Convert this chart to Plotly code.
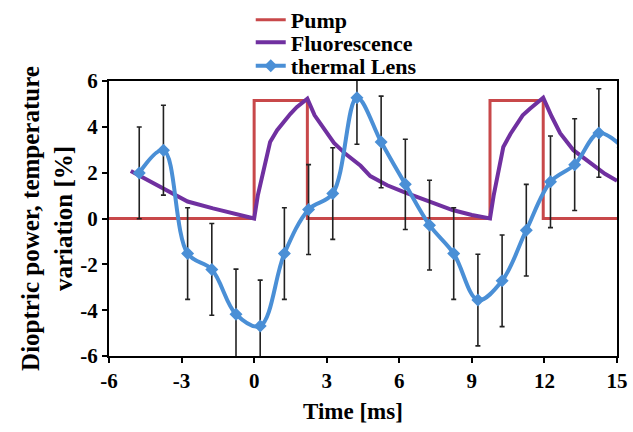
import plotly.graph_objects as go

# ---- data ----
pump_t = [-6, 0.0, 0.0, 2.2, 2.2, 9.75, 9.75, 11.95, 11.95, 15]
pump_v = [0, 0, 5.15, 5.15, 0, 0, 5.15, 5.15, 0, 0]

fluo_t = [-5.1, -4.5, -3.75, -2.75, -1.7, -0.75, 0.0,
          0.15, 0.38, 0.66, 0.95, 1.21, 1.5, 1.76, 2.0, 2.2,
          2.5, 2.9, 3.3, 3.8, 4.4, 4.8, 5.5, 6.2, 7.0, 7.6, 8.2, 9.0, 9.75,
          9.9, 10.03, 10.3, 10.6, 10.85, 11.1, 11.4, 11.7, 11.95,
          12.3, 12.65, 13.2, 13.6, 14.0, 14.5, 15.0]
fluo_v = [2.07, 1.72, 1.31, 0.74, 0.44, 0.19, 0.0,
          1.0, 2.1, 3.34, 3.85, 4.21, 4.57, 4.86, 5.07, 5.23,
          4.5, 3.9, 3.3, 2.8, 2.3, 1.85, 1.45, 1.15, 0.85, 0.6, 0.37, 0.15, 0.0,
          1.0, 1.67, 3.12, 3.7, 4.14, 4.5, 4.79, 5.05, 5.27,
          4.45, 3.72, 2.98, 2.65, 2.32, 1.95, 1.65]

tl_t = [-4.75, -3.75, -2.75, -1.75, -0.75, 0.25, 1.25, 2.25, 3.25, 4.25,
        5.25, 6.25, 7.25, 8.25, 9.25, 10.25, 11.25, 12.25, 13.25, 14.25, 15.25]
tl_v = [1.99, 2.98, -1.53, -2.22, -4.18, -4.69, -1.53, 0.39, 1.09, 5.27,
        3.34, 1.49, -0.29, -1.53, -3.56, -2.72, -0.51, 1.6, 2.35, 3.73, 3.1]
tl_err = [2.0, 1.96, 2.0, 2.0, 1.97, 2.0, 2.0, 1.96, 2.0, 2.03,
          2.0, 1.97, 1.96, 2.0, 2.0, 2.0, 2.0, 2.0, 2.0, 1.93, 0.0]

x_range = [-6, 15]
y_range = [-6, 6]
x_ticks = [-6, -3, 0, 3, 6, 9, 12, 15]
y_ticks = [-6, -4, -2, 0, 2, 4, 6]

RED = "#c8484a"
PURPLE = "#7030a0"
BLUE = "#4a8fd6"
FONT = "Liberation Serif"

fig = go.Figure()
fig.add_trace(go.Scatter(x=pump_t, y=pump_v, mode="lines", name="<b>Pump</b>",
                         line=dict(color=RED, width=3), legend="legend"))
fig.add_trace(go.Scatter(x=fluo_t, y=fluo_v, mode="lines", name="<b>Fluorescence</b>",
                         line=dict(color=PURPLE, width=4), legend="legend2"))
fig.add_trace(go.Scatter(x=tl_t, y=tl_v, mode="lines+markers", name="<b>thermal Lens</b>",
                         line=dict(color=BLUE, width=4, shape="spline", smoothing=1.0),
                         marker=dict(symbol="diamond", size=10, color=BLUE),
                         error_y=dict(type="data", array=tl_err, visible=True,
                                      color="#222222", thickness=1.6, width=2.5),
                         legend="legend3"))
# invisible copy on the overlay axes so the top/right frame axes get drawn
fig.add_trace(go.Scatter(x=pump_t, y=pump_v, mode="lines", xaxis="x2", yaxis="y2",
                         line=dict(color="rgba(0,0,0,0)", width=0), showlegend=False,
                         hoverinfo="skip"))

axis_common = dict(showline=True, linecolor="black", linewidth=2, mirror=True,
                   showgrid=False, zeroline=False, ticks="outside", ticklen=5,
                   tickwidth=2, tickcolor="black",
                   tickfont=dict(family=FONT, size=21, color="black"))

leg_common = dict(xanchor="left", yanchor="middle", bgcolor="rgba(0,0,0,0)",
                  itemwidth=30, font=dict(family=FONT, size=22, color="black"))

fig.update_layout(
    width=633, height=432,
    margin=dict(l=109, r=16, t=81, b=76, autoexpand=False),
    paper_bgcolor="white", plot_bgcolor="white",
    font=dict(family=FONT, color="black"),
    xaxis=dict(range=x_range, tickvals=x_ticks, ticktext=[f"<b>{v}</b>" for v in x_ticks],
               **axis_common),
    yaxis=dict(range=y_range, tickvals=y_ticks, ticktext=[f"<b>{v}</b>" for v in y_ticks],
               title=dict(text="<b>Dioptric power, temperature<br>variation [%]</b>",
                          font=dict(family=FONT, size=25), standoff=1),
               **axis_common),
    xaxis2=dict(range=x_range, overlaying="x", side="top", anchor="y2",
                showline=True, linecolor="black", linewidth=2, ticks="",
                showticklabels=False, showgrid=False, zeroline=False),
    yaxis2=dict(range=y_range, overlaying="y", side="right", anchor="x2",
                showline=True, linecolor="black", linewidth=2, ticks="",
                showticklabels=False, showgrid=False, zeroline=False),
    legend=dict(x=0.279, y=1.222, **leg_common),
    legend2=dict(x=0.279, y=1.14, **leg_common),
    legend3=dict(x=0.279, y=1.055, **leg_common),
    annotations=[dict(text="<b>Time [ms]</b>", xref="paper", yref="paper",
                      x=0.48, y=-0.2, xanchor="center", yanchor="middle",
                      showarrow=False, font=dict(family=FONT, size=23, color="black"))],
    showlegend=True,
)

fig.write_html("out.html", config={"displayModeBar": False},
               post_script="document.body.style.margin='0';document.body.style.overflow='hidden';")
